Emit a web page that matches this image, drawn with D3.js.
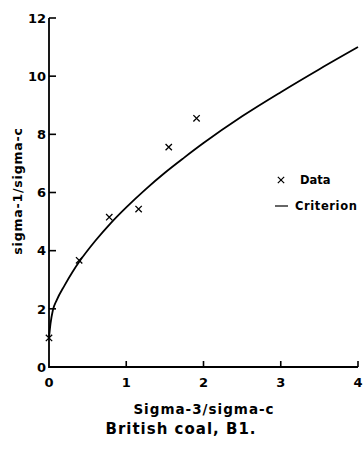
<!DOCTYPE html>
<html>
<head>
<meta charset="utf-8">
<script src="https://cdn.jsdelivr.net/npm/d3@7"></script>
<style>
  body { margin: 0; background: #fff; }
  text { font-family: "DejaVu Sans", sans-serif; font-weight: bold; fill: #000; }
</style>
</head>
<body>
<div id="chart"></div>
<script>
// Data
const dataX = [0, 0.39, 0.78, 1.16, 1.55, 1.91];
const dataY = [1.0, 3.67, 5.15, 5.43, 7.56, 8.55];

// Criterion curve, read as points along the drawn line
const critX = [0, 0.02, 0.05, 0.1, 0.2, 0.3, 0.4, 0.6, 0.8, 1.0, 1.25, 1.5, 1.75, 2.0, 2.5, 3.0, 3.5, 4.0];
const critY = [1.0, 1.5, 1.95, 2.3, 2.8, 3.25, 3.65, 4.34, 4.95, 5.49, 6.11, 6.68, 7.2, 7.7, 8.62, 9.45, 10.24, 11.0];

const xTicks = [0, 1, 2, 3, 4];
const yTicks = [0, 2, 4, 6, 8, 10, 12];

const width = 363, height = 462;
const margin = {left: 49, right: 5, top: 18, bottom: 95};

const svg = d3.select('#chart')
    .append('svg')
    .attr('width', width)
    .attr('height', height);

const x = d3.scaleLinear().domain([0, 4]).range([margin.left, width - margin.right]);
const y = d3.scaleLinear().domain([0, 12]).range([height - margin.bottom, margin.top]);

// Axis lines
const axes = svg.append('g').attr('stroke', '#000').attr('fill', 'none');
axes.append('path')
    .attr('d', `M${x(0)},${y(12)}V${y(0)}H${x(4)}`)
    .attr('stroke-width', 1.8);

// inward ticks
axes.selectAll('line.xt')
    .data(xTicks.filter(d => d > 0))
    .enter()
    .append('line')
    .attr('class', 'xt')
    .attr('x1', d => x(d)).attr('x2', d => x(d))
    .attr('y1', y(0)).attr('y2', y(0) - 6)
    .attr('stroke-width', 1.6);
axes.selectAll('line.yt')
    .data(yTicks.filter(d => d > 0))
    .enter()
    .append('line')
    .attr('class', 'yt')
    .attr('x1', x(0)).attr('x2', x(0) + 7)
    .attr('y1', d => y(d)).attr('y2', d => y(d))
    .attr('stroke-width', 1.6);

// tick labels
svg.append('g').selectAll('text')
    .data(xTicks)
    .enter()
    .append('text')
    .attr('x', d => x(d))
    .attr('y', y(0) + 20)
    .attr('text-anchor', 'middle')
    .attr('font-size', '13px')
    .text(d => d);

svg.append('g').selectAll('text')
    .data(yTicks)
    .enter()
    .append('text')
    .attr('x', x(0) - 3)
    .attr('y', d => y(d))
    .attr('dy', '0.36em')
    .attr('text-anchor', 'end')
    .attr('font-size', '13px')
    .text(d => d);

// criterion curve
const critPts = critX.map((d, i) => [d, critY[i]]);
svg.append('path')
    .datum(critPts)
    .attr('d', d3.line().x(d => x(d[0])).y(d => y(d[1])).curve(d3.curveMonotoneX))
    .attr('fill', 'none')
    .attr('stroke', '#000')
    .attr('stroke-width', 1.8);

// data markers
const cross = d3.symbol().type(d3.symbolTimes).size(28);
svg.append('g').selectAll('path')
    .data(dataX.map((d, i) => [d, dataY[i]]))
    .enter()
    .append('path')
    .attr('d', cross)
    .attr('transform', d => `translate(${x(d[0])},${y(d[1])})`)
    .attr('fill', 'none')
    .attr('stroke', '#000')
    .attr('stroke-width', 1.3);

// legend
const legend = svg.append('g').attr('transform', 'translate(281,180)');
legend.append('path')
    .attr('d', cross)
    .attr('fill', 'none')
    .attr('stroke', '#000')
    .attr('stroke-width', 1.2);
legend.append('text')
    .attr('x', 19)
    .attr('y', 4)
    .attr('font-size', '11.5px')
    .text('Data');
legend.append('line')
    .attr('x1', -6).attr('x2', 7)
    .attr('y1', 26).attr('y2', 26)
    .attr('stroke', '#000')
    .attr('stroke-width', 1.2);
legend.append('text')
    .attr('x', 14)
    .attr('y', 30)
    .attr('font-size', '11.5px')
    .attr('letter-spacing', '0.6px')
    .text('Criterion');

// axis titles
svg.append('text')
    .attr('transform', 'translate(22,191) rotate(-90)')
    .attr('text-anchor', 'middle')
    .attr('font-size', '12.5px')
    .attr('letter-spacing', '0.8px')
    .text('sigma-1/sigma-c');

svg.append('text')
    .attr('x', 204)
    .attr('y', 414)
    .attr('text-anchor', 'middle')
    .attr('font-size', '13.5px')
    .attr('letter-spacing', '1px')
    .text('Sigma-3/sigma-c');

svg.append('text')
    .attr('x', 181)
    .attr('y', 434)
    .attr('text-anchor', 'middle')
    .attr('font-size', '15px')
    .attr('letter-spacing', '1px')
    .text('British coal, B1.');
</script>
</body>
</html>
